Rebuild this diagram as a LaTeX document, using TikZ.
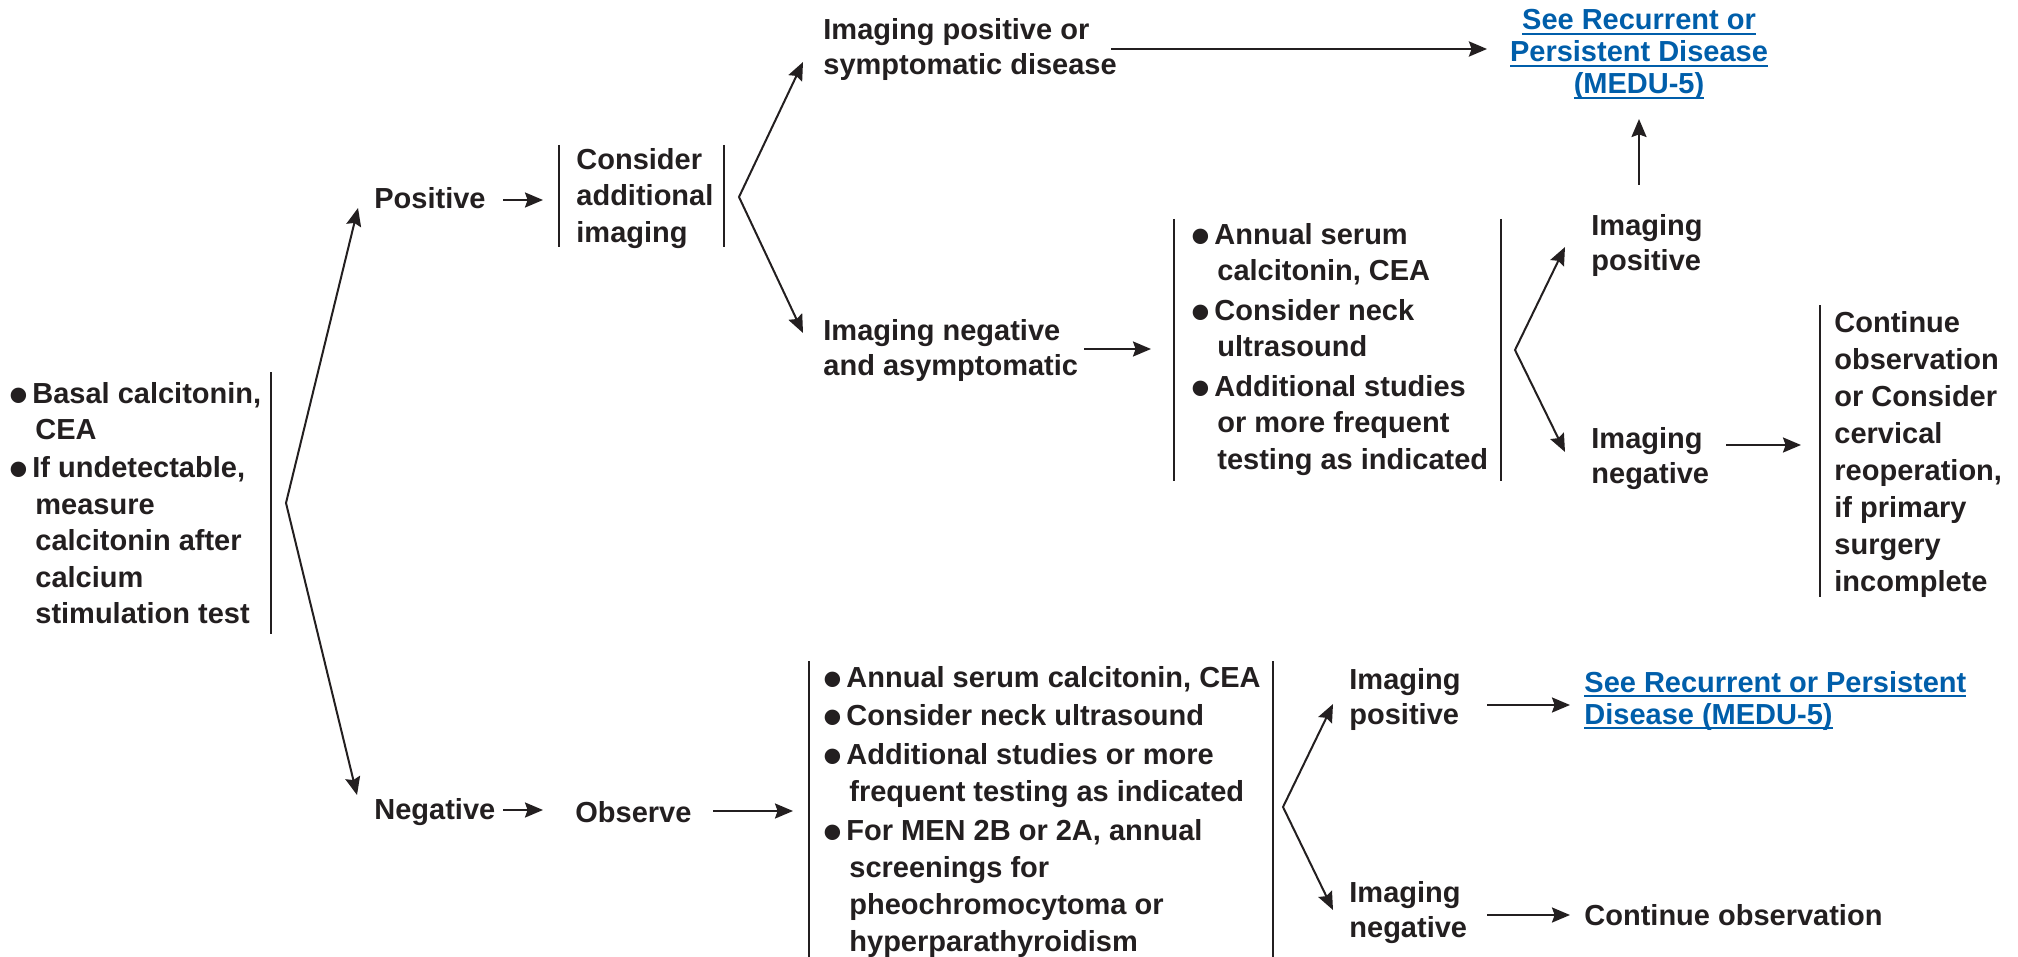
\documentclass[tikz,border=0pt]{standalone}
\usepackage{fontspec}
\setmainfont{Liberation Sans}
\usepackage{graphicx}
\usetikzlibrary{arrows.meta,calc}
\definecolor{ink}{HTML}{231F20}
\definecolor{linkc}{HTML}{005EAA}
\newsavebox\lnkbox
\newcommand\bul{\makebox[10pt][l]{\hspace{-1.3pt}\raisebox{-5pt}{\scalebox{1.85}{\textbullet}}}}
\newcommand\cnt{\hspace*{11.5pt}}
\newcommand\lnk[1]{{\color{linkc}\sbox\lnkbox{#1}\rlap{\rule[-2.6pt]{\wd\lnkbox}{1pt}}\usebox\lnkbox}}
\begin{document}
\begin{tikzpicture}[x=0.5pt,y=-0.5pt,
  txt/.style={inner sep=0pt, anchor=base west, text=ink, font=\fontsize{14.5pt}{#1}\selectfont\bfseries},
  txt/.default=18pt,
  arr/.style={draw=ink, line width=1.1pt, -{Stealth[length=9pt,width=7.5pt,inset=1.3pt]}},
  fork/.style={draw=ink, line width=1pt, {Stealth[length=9pt,width=7.5pt,inset=1.3pt]}-{Stealth[length=9pt,width=7.5pt,inset=1.3pt]}},
  bar/.style={draw=ink, line width=1pt}]
\useasboundingbox (0,0) rectangle (2018,957);

% ---------- text nodes ----------
\node[txt=18.25pt] (basal) at (12,403) {\begin{tabular}[t]{@{}l@{}}
\bul Basal calcitonin,\\ \cnt CEA\\[0.75pt]
\bul If undetectable,\\ \cnt measure\\ \cnt calcitonin after\\ \cnt calcium\\ \cnt stimulation test\end{tabular}};
\node[txt] (posi) at (374,209) {Positive};
\node[txt] (nega) at (374,819) {Negative};
\node[txt=18pt] (cons) at (576,170) {\begin{tabular}[t]{@{}l@{}}Consider\\additional\\imaging\end{tabular}};
\node[txt=17.5pt] (ipos) at (823,40) {\begin{tabular}[t]{@{}l@{}}Imaging positive or\\symptomatic disease\end{tabular}};
\node[txt=17.5pt] (ineg) at (823,340) {\begin{tabular}[t]{@{}l@{}}Imaging negative\\and asymptomatic\end{tabular}};
\node[txt=16pt, anchor=base] (link1) at (1639,30) {\begin{tabular}[t]{@{}c@{}}\lnk{See Recurrent or}\\\lnk{Persistent Disease}\\\lnk{(MEDU-5)}\end{tabular}};
\node[txt=18pt] (fol1) at (1194,245) {\begin{tabular}[t]{@{}l@{}}
\bul Annual serum\\ \cnt calcitonin, CEA\\[2pt]
\bul Consider neck\\ \cnt ultrasound\\[2pt]
\bul Additional studies\\ \cnt or more frequent\\ \cnt testing as indicated\end{tabular}};
\node[txt=17.5pt] (ip2) at (1591,235) {\begin{tabular}[t]{@{}l@{}}Imaging\\positive\end{tabular}};
\node[txt=17.5pt] (in2) at (1591,448) {\begin{tabular}[t]{@{}l@{}}Imaging\\negative\end{tabular}};
\node[txt=18.55pt] (cont1) at (1834,332) {\begin{tabular}[t]{@{}l@{}}Continue\\observation\\or Consider\\cervical\\reoperation,\\if primary\\surgery\\incomplete\end{tabular}};
\node[txt] (obs) at (575,822) {Observe};
\node[txt=18.5pt] (fol2) at (826,687) {\begin{tabular}[t]{@{}l@{}}
\bul Annual serum calcitonin, CEA\\[0.85pt]
\bul Consider neck ultrasound\\[0.85pt]
\bul Additional studies or more\\ \cnt frequent testing as indicated\\[0.85pt]
\bul For MEN 2B or 2A, annual\\ \cnt screenings for\\ \cnt pheochromocytoma or\\ \cnt hyperparathyroidism\end{tabular}};
\node[txt=17.5pt] (ip3) at (1349,689) {\begin{tabular}[t]{@{}l@{}}Imaging\\positive\end{tabular}};
\node[txt=17.5pt] (in3) at (1349,902) {\begin{tabular}[t]{@{}l@{}}Imaging\\negative\end{tabular}};
\node[txt=16pt] (link2) at (1584,692) {\begin{tabular}[t]{@{}l@{}}\lnk{See Recurrent or Persistent}\\\lnk{Disease (MEDU-5)}\end{tabular}};
\node[txt] (cont2) at (1584,925) {Continue observation};

% ---------- bracket bars ----------
\draw[bar] (271,372) -- (271,634);
\draw[bar] (559,145) -- (559,247);
\draw[bar] (724,145) -- (724,247);
\draw[bar] (1174,219) -- (1174,481);
\draw[bar] (1501,219) -- (1501,481);
\draw[bar] (1820,305) -- (1820,597);
\draw[bar] (809,661) -- (809,957);
\draw[bar] (1273,661) -- (1273,957);

% ---------- fork points and arrow ends ----------
\coordinate (v1) at (286,503);
\coordinate (v1u) at (358,208);
\coordinate (v1d) at (357,795);
\coordinate (v2) at (739,197);
\coordinate (v2u) at (803,62);
\coordinate (v2d) at (803,333);
\coordinate (v3) at (1515,350);
\coordinate (v3u) at (1565,247);
\coordinate (v3d) at (1565,452);
\coordinate (v4) at (1283,807);
\coordinate (v4u) at (1333,704);
\coordinate (v4d) at (1333,910);

\draw[fork] (v1u) -- (v1) -- (v1d);
\draw[fork] (v2u) -- (v2) -- (v2d);
\draw[fork] (v3u) -- (v3) -- (v3d);
\draw[fork] (v4u) -- (v4) -- (v4d);

\coordinate (a1s) at (503,200);  \coordinate (a1e) at (543,200);
\coordinate (a2s) at (503,810);  \coordinate (a2e) at (543,810);
\coordinate (a3s) at (1111,49);  \coordinate (a3e) at (1487,49);
\coordinate (a4s) at (1084,349); \coordinate (a4e) at (1151,349);
\coordinate (a5s) at (1639,185); \coordinate (a5e) at (1639,119);
\coordinate (a6s) at (1726,445); \coordinate (a6e) at (1801,445);
\coordinate (a7s) at (713,811);  \coordinate (a7e) at (793,811);
\coordinate (a8s) at (1487,705); \coordinate (a8e) at (1570,705);
\coordinate (a9s) at (1487,915); \coordinate (a9e) at (1570,915);

\draw[arr] (a1s) -- (a1e);
\draw[arr] (a2s) -- (a2e);
\draw[arr, line width=1.4pt] (a3s) -- (a3e);
\draw[arr] (a4s) -- (a4e);
\draw[arr] (a5s) -- (a5e);
\draw[arr] (a6s) -- (a6e);
\draw[arr] (a7s) -- (a7e);
\draw[arr] (a8s) -- (a8e);
\draw[arr] (a9s) -- (a9e);
\end{tikzpicture}
\end{document}
